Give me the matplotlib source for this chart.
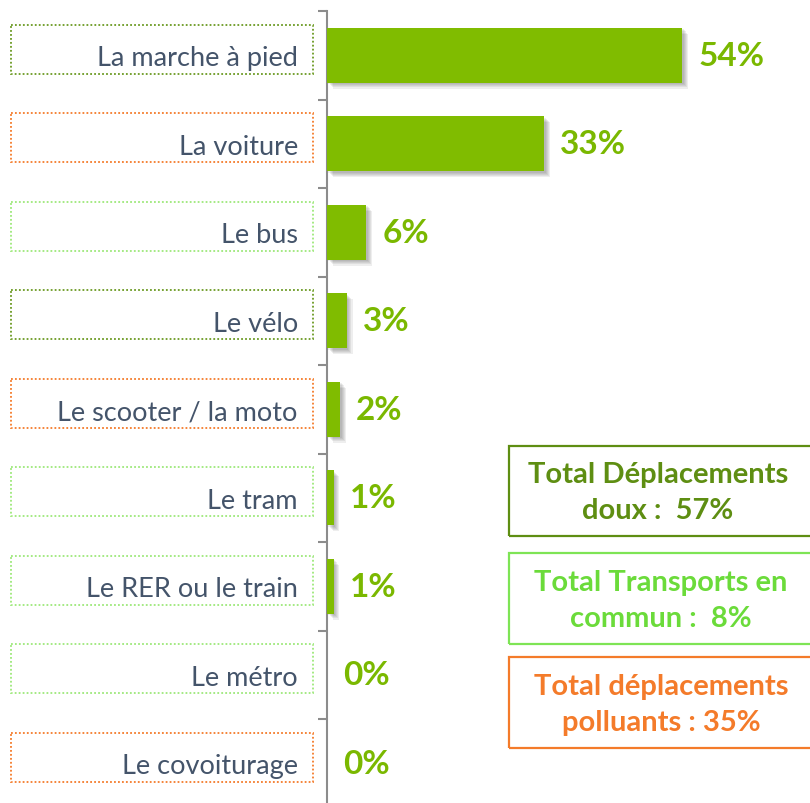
import matplotlib
matplotlib.use("Agg")
import matplotlib.pyplot as plt
import matplotlib.transforms as mtransforms
import matplotlib.patheffects as pe
from matplotlib.patches import Rectangle

plt.rcParams['font.family'] = ['Lato', 'DejaVu Sans']

# ---- data ----
categories = ["La marche à pied", "La voiture", "Le bus", "Le vélo",
              "Le scooter / la moto", "Le tram", "Le RER ou le train",
              "Le métro", "Le covoiturage"]
values = [54, 33, 6, 3, 2, 1, 1, 0, 0]
groups = ["doux", "polluant", "commun", "doux", "polluant",
          "commun", "commun", "commun", "polluant"]
totals_text = ["Total Déplacements\ndoux :  {}%",
               "Total Transports en\ncommun :  {}%",
               "Total déplacements\npolluants : {}%"]
totals_values = [57, 8, 35]
totals_groups = ["doux", "commun", "polluant"]

# ---- styles ----
BAR = "#80BC00"
VAL = "#7AB800"
CAT = "#44546A"
AXIS = "#8C8C8C"
dotted_colors = {"doux": "#6B9A22", "polluant": "#F47B2A", "commun": "#9DE87A"}
total_edge = {"doux": "#5E8E12", "commun": "#7EE455", "polluant": "#F47B2A"}
total_text = {"doux": "#5E8E12", "commun": "#6BDB3A", "polluant": "#F47B2A"}

W, H = 810, 804
fig = plt.figure(figsize=(W / 100, H / 100), dpi=100)
fig.patch.set_facecolor("white")

ax = fig.add_axes([327 / W, 1 - 808.5 / H, 483 / W, 796.5 / H])
n = len(categories)
y = list(range(n))

shadow = [pe.SimplePatchShadow(offset=(d, -d), shadow_rgbFace="#444444", alpha=0.09)
          for d in (1.0, 1.8, 2.6, 3.4, 4.2)] + [pe.Normal()]
bars = ax.barh(y, values, height=0.62, color=BAR, zorder=3)
for b in bars:
    if b.get_width() > 0:
        b.set_path_effects(shadow)

for yi, v in zip(y, values):
    ax.annotate(f"{v}%", xy=(v, yi), xytext=(16, 0), textcoords="offset pixels",
                ha="left", va="center", fontsize=24, fontweight="bold", color=VAL)

ax.set_xlim(0, 73.4)
ax.set_ylim(n - 0.5, -0.5)
for s in ["top", "right", "bottom"]:
    ax.spines[s].set_visible(False)
ax.spines["left"].set_color(AXIS)
ax.spines["left"].set_linewidth(1.5)
ax.set_xticks([])
ax.set_yticks(y)
ax.set_yticklabels(categories, fontsize=19.5, color=CAT)
ax.tick_params(axis="y", which="major", length=0, pad=21)
ax.set_yticks([i - 0.5 for i in range(n + 1)], minor=True)
ax.tick_params(axis="y", which="minor", length=6.5, width=1.5, color=AXIS)

# dotted boxes around category labels
trans = mtransforms.blended_transform_factory(fig.transFigure, ax.transData)
for yi, g in zip(y, groups):
    r = Rectangle((11 / W, yi - 0.068 - 0.277), 302 / W, 0.554, transform=trans,
                  fill=False, edgecolor=dotted_colors[g], linewidth=1.3,
                  linestyle=(0, (1, 1.2)), clip_on=False)
    ax.add_patch(r)

# total boxes
box_pos = [(447, 537, 658, 493), (554, 645, 661, 601), (658, 749, 661, 705)]
for (top, bot, cx, cy), t, v, g in zip(box_pos, totals_text, totals_values, totals_groups):
    rect = Rectangle((509 / W, 1 - bot / H), 310 / W, (bot - top) / H,
                     transform=fig.transFigure, fill=False,
                     edgecolor=total_edge[g], linewidth=1.6)
    fig.add_artist(rect)
    fig.text(cx / W, 1 - cy / H, t.format(v), ha="center", va="center",
             fontsize=21, fontweight="bold", color=total_text[g],
             linespacing=1.45)

fig.savefig("out.png", dpi=100)
